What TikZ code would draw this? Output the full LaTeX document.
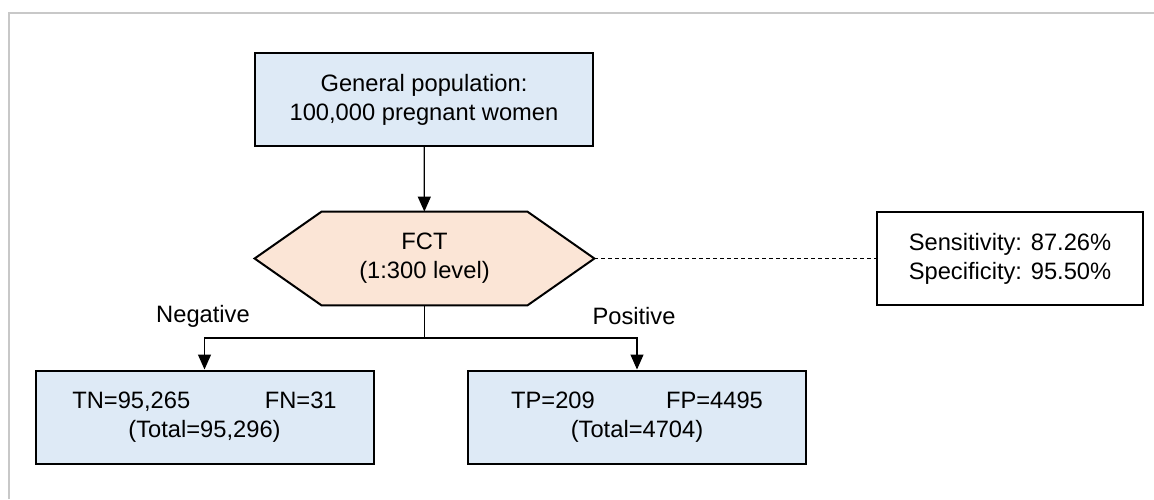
\documentclass[tikz,border=0pt]{standalone}
\usepackage{fontspec}
\setmainfont{Liberation Sans}
\usepackage{xcolor}
\usetikzlibrary{arrows.meta,backgrounds}
\definecolor{popblue}{HTML}{DEEAF6}
\definecolor{testpeach}{HTML}{FBE5D6}
\definecolor{framegray}{HTML}{C8C8C8}

\begin{document}
\begin{tikzpicture}[x=0.5pt,y=-0.5pt,
    every node/.style={font=\fontsize{11.85}{14.5}\selectfont, align=center, inner sep=0pt},
    bluebox/.style={draw, line width=1pt, fill=popblue, minimum width=169pt, minimum height=46.5pt},
    hexnode/.style={minimum width=169.5pt, minimum height=46.5pt},
    infobox/.style={draw, line width=1pt, fill=white, minimum width=133pt, minimum height=46.5pt},
    link/.style={line width=0.6pt},
    arrowlink/.style={link, -{Triangle[length=7.5pt,width=6.5pt]}}]
        \useasboundingbox (0,0) rectangle (1154,499);
        \draw[framegray, line width=1pt] (9,499) -- (9,12.7) -- (1154,12.7);
        % population and test
        \node[bluebox] (pop) at (424,99.5) {General population:\\100,000 pregnant women};
        \node[hexnode] (fct) at (424.5,258.5) {FCT\\(1:300 level)};
        \begin{scope}[on background layer]
            \draw[line width=1pt, fill=testpeach] (fct.west) -- ([xshift=33.5pt]fct.north west)
                -- ([xshift=-33.5pt]fct.north east) -- (fct.east)
                -- ([xshift=-33.5pt]fct.south east) -- ([xshift=33.5pt]fct.south west) -- cycle;
        \end{scope}
        \node[infobox] (acc) at (1010,258.5) {Sensitivity: 87.26\%\\Specificity: 95.50\%};
        % outcomes
        \node[bluebox] (neg) at (204.5,417) {TN=95,265\hspace{37.3pt}FN=31\\(Total=95,296)};
        \node[bluebox] (pos) at (637,417) {TP=209\hspace{35.6pt}FP=4495\\(Total=4704)};
        \node (neglabel) at (203,316) {Negative};
        \node (poslabel) at (634,316) {Positive};
        \coordinate (split) at (fct.south |- 0,338);
        \draw[arrowlink] (pop) -- (fct);
        \draw[link] (fct.south) -- (split);
        \draw[arrowlink] (split) -| (neg);
        \draw[arrowlink] (split) -| (pos);
        \draw[link, dash pattern=on 2pt off 1.5pt] (fct.east) -- (acc.west);
\end{tikzpicture}
\end{document}
